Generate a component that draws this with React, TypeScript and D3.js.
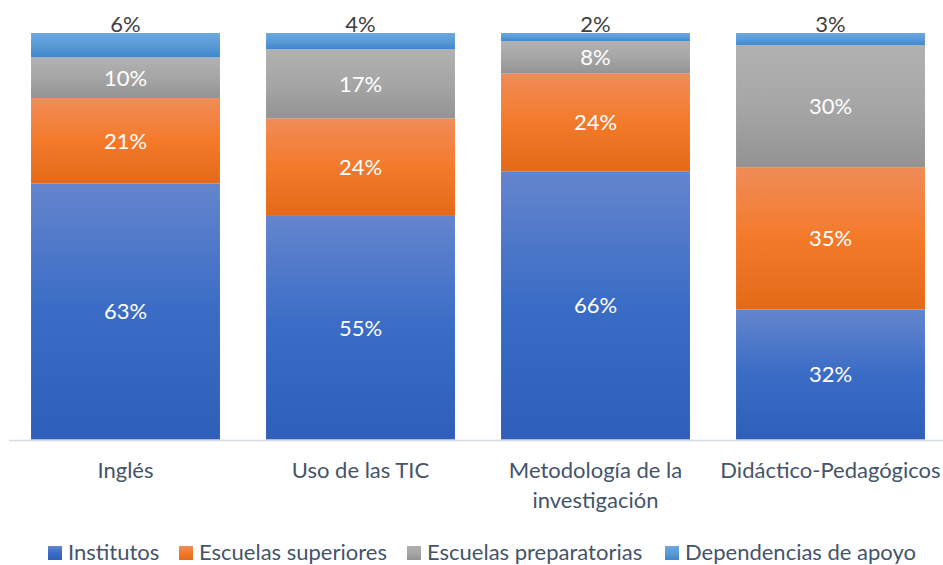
import * as d3 from "d3";

const categories = ["Inglés", "Uso de las TIC", "Metodología de la investigación", "Didáctico-Pedagógicos"];
const categoryLines = [["Inglés"], ["Uso de las TIC"], ["Metodología de la", "investigación"], ["Didáctico-Pedagógicos"]];
const seriesNames = ["Institutos", "Escuelas superiores", "Escuelas preparatorias", "Dependencias de apoyo"];
const institutos = [63, 55, 66, 32];
const superiores = [21, 24, 24, 35];
const preparatorias = [10, 17, 8, 30];
const dependencias = [6, 4, 2, 3];

const gradients = [
  ["#6485cd", "#3a6cc6", "#2f5fb8"],
  ["#f08c58", "#f47a2a", "#e46a18"],
  ["#b1b1b1", "#a6a6a6", "#939393"],
  ["#6ca8e0", "#5b9bd5", "#3f87cf"],
];

const W = 943;
const H = 565;
const FONT = "Lato, 'Open Sans', sans-serif";

export default function App() {
  const rows = categories.map((c, i) => ({
    cat: c,
    s0: institutos[i],
    s1: superiores[i],
    s2: preparatorias[i],
    s3: dependencias[i],
  }));
  const keys = ["s0", "s1", "s2", "s3"];
  const stacked = d3.stack<any>().keys(keys)(rows);

  const x = d3.scaleBand().domain(categories).range([8, 948]).paddingInner(0.196).paddingOuter(0.098);
  const y = d3.scaleLinear().domain([0, 100]).range([439.5, 33]);

  // legend placement
  const legendX = [48, 179, 407, 665];

  return (
    <svg width={W} height={H} style={{ position: "absolute", left: 0, top: 0, fontFamily: FONT }}>
      <defs>
        {gradients.map((g, i) => (
          <linearGradient key={i} id={`grad${i}`} x1="0" y1="0" x2="0" y2="1">
            <stop offset="0%" stopColor={g[0]} />
            <stop offset="50%" stopColor={g[1]} />
            <stop offset="100%" stopColor={g[2]} />
          </linearGradient>
        ))}
      </defs>
      <rect width={W} height={H} fill="#fff" />
      {stacked.map((layer, si) =>
        layer.map((d, ci) => (
          <rect
            key={`${si}-${ci}`}
            x={x(categories[ci])}
            y={y(d[1])}
            width={x.bandwidth()}
            height={y(d[0]) - y(d[1])}
            fill={`url(#grad${si})`}
          />
        ))
      )}
      <line x1={9} x2={943} y1={440.5} y2={440.5} stroke="#d6dce5" strokeWidth={1.5} />
      {stacked.map((layer, si) =>
        layer.map((d, ci) => {
          const cx = (x(categories[ci]) || 0) + x.bandwidth() / 2;
          const v = d[1] - d[0];
          if (si === 3) {
            return (
              <text key={`l${si}-${ci}`} x={cx} y={y(d[1]) - 1} textAnchor="middle" fontSize={22} fill="#404040">
                {`${v}%`}
              </text>
            );
          }
          return (
            <text
              key={`l${si}-${ci}`}
              x={cx}
              y={(y(d[0]) + y(d[1])) / 2}
              dy="0.36em"
              textAnchor="middle"
              fontSize={22}
              fill="#ffffff"
            >
              {`${v}%`}
            </text>
          );
        })
      )}
      {categories.map((c, ci) => {
        const cx = (x(c) || 0) + x.bandwidth() / 2;
        return (
          <text key={c} x={cx} y={478} textAnchor="middle" fontSize={22} fill="#44546a">
            {categoryLines[ci].map((ln, li) => (
              <tspan key={li} x={cx} dy={li === 0 ? 0 : 30}>
                {ln}
              </tspan>
            ))}
          </text>
        );
      })}
      {seriesNames.map((s, i) => (
        <g key={s} transform={`translate(${legendX[i]},0)`}>
          <rect x={0} y={546} width={14} height={14} fill={`url(#grad${i})`} />
          <text x={20} y={560} fontSize={22} fill="#44546a">
            {s}
          </text>
        </g>
      ))}
    </svg>
  );
}
